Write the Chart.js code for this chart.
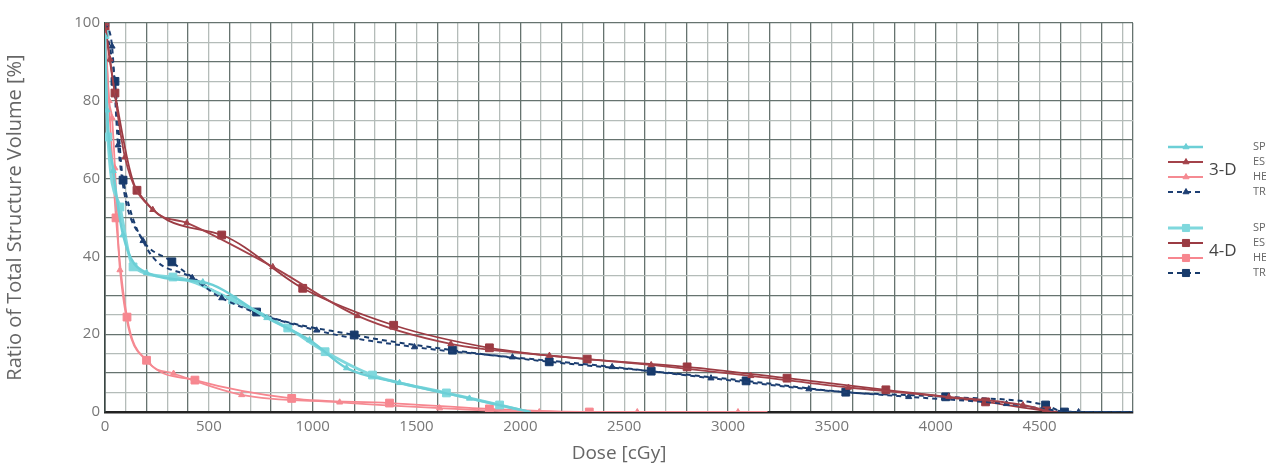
<!DOCTYPE html>
<html>
<head>
<meta charset="utf-8">
<script src="https://cdn.jsdelivr.net/npm/chart.js@4.4.1/dist/chart.umd.min.js"></script>
<style>
  html, body { margin: 0; padding: 0; background: #fff; }
  #wrap { width: 1266px; height: 465px; position: relative; }
</style>
</head>
<body>
<div id="wrap"><canvas id="dvh"></canvas></div>
<script>
// nombres de estructuras y grupos de la leyenda
const structures = ['SPINAL CORD', 'ESOPHAGUS', 'HEART', 'TRACHEA'];
const groups = ['3-D', '4-D'];

// ticks del eje x (cGy) y del eje y (%)
const doseTicks = [0, 500, 1000, 1500, 2000, 2500, 3000, 3500, 4000, 4500];
const volumeTicks = [0, 20, 40, 60, 80, 100];

// 3-D
const spinal3dDose = [0, 10, 40, 87, 200, 471, 779, 985, 1163, 1418, 1755, 2050];
const spinal3dVol = [96.5, 77.6, 62, 45.5, 35.8, 33.4, 24.2, 18.5, 11.3, 7.5, 3.5, 0];
const esoph3dDose = [0, 24, 96, 230, 394, 808, 1216, 1665, 2140, 2630, 3110, 3580, 4063, 4420, 4560];
const esoph3dVol = [100, 90.7, 65.5, 52, 48.6, 37.3, 24.7, 17.5, 14.5, 12.1, 9.3, 6.3, 3.9, 1.8, 0];
const heart3dDose = [0, 20, 34, 48, 72, 207, 330, 658, 1130, 1611, 2091, 2563, 3048, 3190];
const heart3dVol = [100, 80, 75.6, 62.7, 36.5, 12.9, 9.9, 4.4, 2.5, 1, 0, 0, 0, 0];
const trach3dDose = [0, 34, 63, 183, 420, 562, 1019, 1490, 1962, 2442, 2918, 3389, 3870, 4341, 4688, 4950];
const trach3dVol = [100, 94, 68.6, 44, 34.5, 29.3, 21, 16.7, 14.1, 11.6, 8.7, 5.9, 3.9, 2.1, 0, 0];

// 4-D
const spinal4dDose = [0, 14, 72, 135, 327, 615, 880, 1060, 1288, 1644, 1900, 2040];
const spinal4dVol = [97, 70.7, 52.7, 37.3, 34.7, 28.8, 21.6, 15.5, 9.5, 4.9, 1.8, 0];
const esoph4dDose = [0, 48, 154, 562, 952, 1390, 1851, 2322, 2803, 3284, 3760, 4240, 4534, 4600];
const esoph4dVol = [99, 82, 57, 45.5, 31.8, 22.3, 16.5, 13.6, 11.6, 8.7, 5.7, 2.6, 0.3, 0];
const heart4dDose = [0, 53, 106, 200, 433, 899, 1370, 1851, 2332, 2803];
const heart4dVol = [98, 49.9, 24.4, 13.3, 8.2, 3.5, 2.3, 0.8, 0, 0];
const trach4dDose = [0, 48, 87, 322, 730, 1200, 1673, 2139, 2630, 3087, 3567, 4048, 4529, 4620, 4950];
const trach4dVol = [100, 85, 59.6, 38.6, 25.7, 19.8, 15.9, 12.9, 10.5, 8, 5.1, 3.9, 1.8, 0, 0];

const toPoints = (xs, ys) => xs.map((x, i) => ({ x: x, y: ys[i] }));

// el último punto de cada curva no lleva marcador
const radiusFor = (r) => (c) => c.dataIndex === c.dataset.data.length - 1 ? 0 : r;

const serie = (label, xs, ys, color, width, style, r, dash) => ({
    label: label,
    data: toPoints(xs, ys),
    borderColor: color,
    backgroundColor: color,
    borderWidth: width,
    borderDash: dash || [],
    pointStyle: style,
    pointRadius: radiusFor(r),
    pointBorderWidth: 1,
    cubicInterpolationMode: 'monotone',
    fill: false
});

const datasets = [
    serie('3-D ' + structures[0], spinal3dDose, spinal3dVol, '#6ccfd6', 2.5, 'triangle', 3.5),
    serie('3-D ' + structures[1], esoph3dDose, esoph3dVol, '#a3424a', 1.8, 'triangle', 3.5),
    serie('3-D ' + structures[2], heart3dDose, heart3dVol, '#f58a92', 1.8, 'triangle', 3.5),
    serie('3-D ' + structures[3], trach3dDose, trach3dVol, '#1e3f73', 2, 'triangle', 3.5, [5, 4]),
    serie('4-D ' + structures[0], spinal4dDose, spinal4dVol, '#7fd8dd', 3, 'rect', 5.5),
    serie('4-D ' + structures[1], esoph4dDose, esoph4dVol, '#9b3b43', 1.8, 'rect', 5.5),
    serie('4-D ' + structures[2], heart4dDose, heart4dVol, '#f7868f', 1.8, 'rect', 5.5),
    serie('4-D ' + structures[3], trach4dDose, trach4dVol, '#173a6b', 2, 'rect', 5.5, [5, 4])
];

//leyenda agrupada 3-D / 4-D dibujada a la derecha
const groupedLegend = {
    id: 'groupedLegend',
    afterDraw(chart) {
        const ctx = chart.ctx;
        ctx.save();
        chart.data.datasets.forEach((ds, i) => {
            const g = Math.floor(i / 4);
            const y = 147 + g * 81 + (i % 4) * 15;
            ctx.strokeStyle = ds.borderColor;
            ctx.fillStyle = ds.borderColor;
            ctx.lineWidth = ds.borderWidth;
            ctx.setLineDash(ds.borderDash);
            ctx.beginPath();
            ctx.moveTo(1168, y);
            ctx.lineTo(1203, y);
            ctx.stroke();
            ctx.setLineDash([]);
            ctx.lineWidth = 1;
            Chart.helpers.drawPoint(ctx, {
                pointStyle: ds.pointStyle,
                radius: ds.pointStyle === 'rect' ? 5 : 3.5,
                rotation: 0,
                borderWidth: 1
            }, 1186, y);
            ctx.fillStyle = '#666';
            ctx.font = '11px "Open Sans"';
            ctx.textAlign = 'left';
            ctx.textBaseline = 'middle';
            ctx.fillText(structures[i % 4], 1253, y);
        });
        ctx.fillStyle = '#444';
        ctx.font = '17px "Open Sans"';
        ctx.textBaseline = 'middle';
        groups.forEach((t, g) => ctx.fillText(t, 1209, 170 + g * 81));
        ctx.restore();
    }
};

const gridColor = (c) => c.index % 2 ? '#b4bcb9' : '#66736f';

const ctx = document.getElementById('dvh');
new Chart(ctx, {
    type: 'line',
    data: { datasets: datasets },
    plugins: [groupedLegend],
    options: {
        responsive: true,
        maintainAspectRatio: false,
        animation: false,
        devicePixelRatio: 1,
        layout: { padding: { left: 0, right: 133, top: 23, bottom: 0 } },
        plugins: {
            legend: { display: false },
            tooltip: { enabled: false }
        },
        scales: {
            x: {
                type: 'linear',
                min: 0,
                max: 4950,
                afterBuildTicks: (scale) => {
                    const t = [];
                    for (let v = 0; v <= 4900; v += 100) t.push({ value: v });
                    t.push({ value: 4950 });
                    scale.ticks = t;
                },
                afterFit: (scale) => { scale.height = 53; },
                grid: { color: gridColor, lineWidth: 1.3, drawTicks: false },
                border: { color: '#222', width: 2.5 },
                ticks: {
                    autoSkip: false,
                    maxRotation: 0,
                    padding: 6,
                    color: '#777',
                    font: { family: 'Open Sans', size: 15 },
                    callback: (v) => doseTicks.includes(v) ? v : ''
                },
                title: {
                    display: true,
                    text: 'Dose [cGy]',
                    color: '#666',
                    font: { family: 'Open Sans', size: 19 },
                    padding: { top: 0, bottom: 0 }
                }
            },
            y: {
                min: 0,
                max: 100,
                afterBuildTicks: (scale) => {
                    const t = [];
                    for (let v = 0; v <= 100; v += 5) t.push({ value: v });
                    scale.ticks = t;
                },
                afterFit: (scale) => { scale.width = 105; },
                grid: { color: gridColor, lineWidth: 1.3, drawTicks: false },
                border: { color: '#3a4643', width: 1.6 },
                ticks: {
                    autoSkip: false,
                    padding: 5,
                    color: '#777',
                    font: { family: 'Open Sans', size: 15 },
                    callback: (v) => volumeTicks.includes(v) ? v : ''
                },
                title: {
                    display: true,
                    text: 'Ratio of Total Structure Volume [%]',
                    color: '#666',
                    font: { family: 'Open Sans', size: 20 },
                    padding: { top: 3, bottom: 2 }
                }
            }
        }
    }
});
</script>
</body>
</html>
